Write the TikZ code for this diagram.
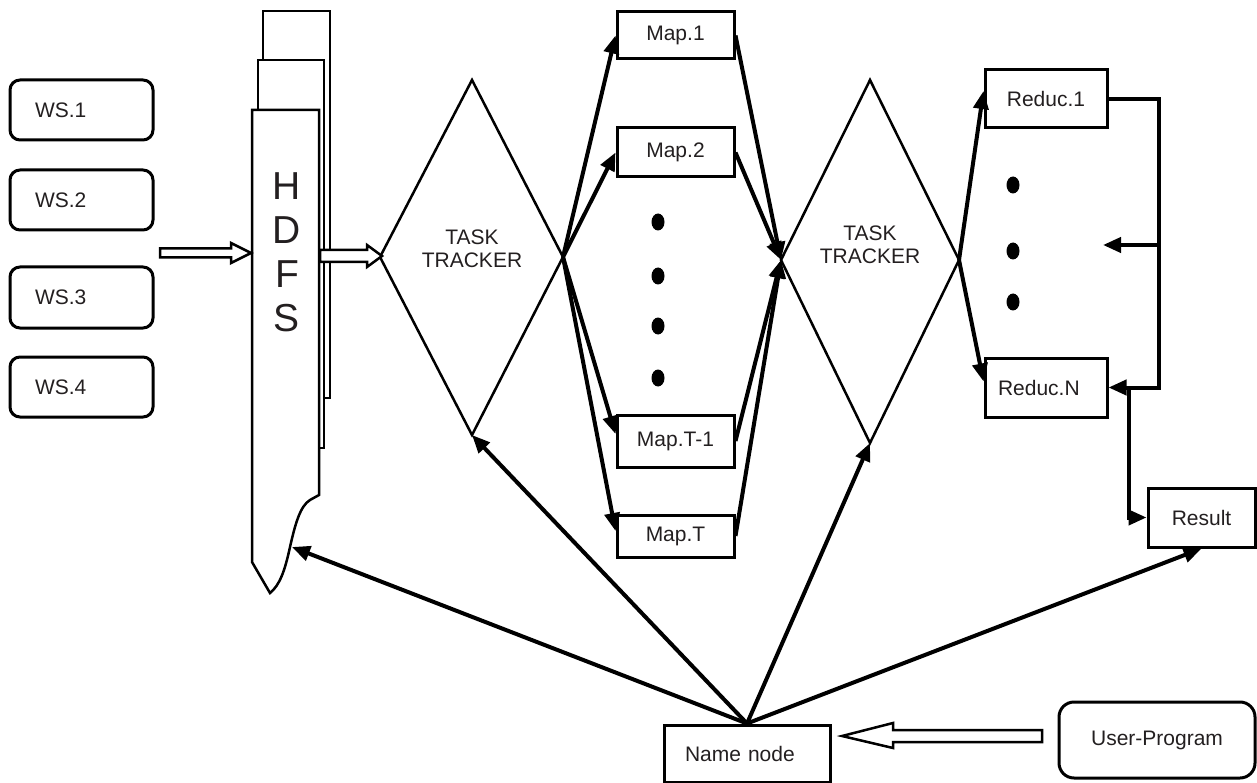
\documentclass[tikz,border=0pt]{standalone}
\usepackage{fontspec}
\setmainfont{Liberation Sans}
\usetikzlibrary{arrows.meta,calc}
\definecolor{txt}{HTML}{231F20}
\begin{document}
\begin{tikzpicture}[x=1pt,y=-1pt,
  lbl/.style={font=\fontsize{21}{24}\selectfont, text=txt},
  box/.style={draw, line width=3pt, inner sep=0pt, lbl},
  rbox/.style={box, rounded corners=10pt},
  arr/.style={line width=4pt, line join=miter, -{Triangle[length=18pt,width=15pt]}},
  dia/.style={draw, line width=2.5pt, line join=miter},
  sheet/.style={draw, line width=2.5pt, fill=white, line join=miter},
  fat/.style={draw, line width=2.5pt, fill=white, line join=miter},
  blob/.style={fill=black}]
\useasboundingbox (0,0) rectangle (1257,783);

% worker boxes
\node[rbox, minimum width=143pt, minimum height=60pt, inner xsep=25pt, text width=93pt, align=left] (ws1) at (81.5,110) {WS.1};
\node[rbox, minimum width=143pt, minimum height=60pt, inner xsep=25pt, text width=93pt, align=left] (ws2) at (81.5,200) {WS.2};
\node[rbox, minimum width=143pt, minimum height=61pt, inner xsep=25pt, text width=93pt, align=left] (ws3) at (81.5,297.5) {WS.3};
\node[rbox, minimum width=143pt, minimum height=60pt, inner xsep=25pt, text width=93pt, align=left] (ws4) at (81.5,387) {WS.4};

% HDFS stack
\draw[sheet] (263,11) rectangle (330,398);
\draw[sheet] (258,60) rectangle (324,448);
\draw[sheet] (252,110) -- (319,110) -- (319,495) -- (310,500)
  .. controls (300,506) and (295,525) .. (290,547)
  .. controls (285,570) and (280,585) .. (270,593)
  -- (252,562) -- cycle;
\node[font=\fontsize{39}{44}\selectfont, text=txt, align=center, inner sep=0pt] (hdfs) at (287,252) {H\\D\\F\\S};
\coordinate (hc) at (292,547);

% fat arrow WS -> HDFS
\coordinate (wa) at (160,253);
\coordinate (wb) at (251,253);
\draw[fat] (wb) -- ($(wb)+(-20,-10)$) -- ($(wb)+(-20,-4.5)$) -- ($(wa)+(0,-4.5)$)
  -- ($(wa)+(0,4.5)$) -- ($(wb)+(-20,4.5)$) -- ($(wb)+(-20,10)$) -- cycle;

% task tracker 1
\coordinate (t1l) at (380,257);
\coordinate (t1t) at (472,80);
\coordinate (t1r) at (563,257);
\coordinate (t1b) at (472,435);
\draw[dia] (t1l) -- (t1t) -- (t1r) -- (t1b) -- cycle;
\node[lbl, align=center, font=\fontsize{21}{23}\selectfont] (tt1) at (472,249) {TASK\\TRACKER};

% fat arrow HDFS -> TT1
\coordinate (ha) at (320,256);
\coordinate (hb) at (382,256);
\draw[fat] (hb) -- ($(hb)+(-15,-11)$) -- ($(hb)+(-15,-6)$) -- ($(ha)+(0,-6)$)
  -- ($(ha)+(0,6)$) -- ($(hb)+(-15,6)$) -- ($(hb)+(-15,11)$) -- cycle;

% map boxes
\node[box, minimum width=117pt, minimum height=47pt] (m1) at (675.5,35.5) {Map.1};
\node[box, minimum width=117pt, minimum height=49pt] (m2) at (675.5,152.5) {Map.2};
\node[box, minimum width=117pt, minimum height=52pt] (m3) at (675.5,441) {Map.T-1};
\node[box, minimum width=117pt, minimum height=42pt] (m4) at (675.5,536) {Map.T};

\foreach \yy in {222,276,326,378} \fill[blob] (658,\yy) ellipse [x radius=6.5pt, y radius=8.5pt];

% task tracker 2
\coordinate (t2l) at (781,260);
\coordinate (t2t) at (870,80);
\coordinate (t2r) at (959,260);
\coordinate (t2b) at (870,443);
\draw[dia] (t2l) -- (t2t) -- (t2r) -- (t2b) -- cycle;
\node[lbl, align=center, font=\fontsize{21}{23}\selectfont] (tt2) at (870,245) {TASK\\TRACKER};

% TT1 -> maps
\draw[arr] (t1r) -- (m1.west);
\draw[arr] (t1r) -- (m2.west);
\draw[arr] (t1r) -- ($(m3.west)+(0,-7)$);
\draw[arr] (t1r) -- ($(m4.west)+(0,-5)$);

% maps -> TT2
\draw[arr] (m1.east) -- (t2l);
\draw[arr] (m2.east) -- (t2l);
\draw[arr] (m3.east) -- (t2l);
\draw[arr] (m4.east) -- (t2l);

% reduce boxes
\node[box, minimum width=122pt, minimum height=58pt] (r1) at (1046,99) {Reduc.1};
\node[box, minimum width=122pt, minimum height=59pt, inner xsep=13pt, text width=96pt, align=left] (rN) at (1046,387.5) {Reduc.N};
\foreach \yy in {185,251,302} \fill[blob] (1013,\yy) ellipse [x radius=6.5pt, y radius=8.5pt];

\draw[arr] (t2r) -- ($(r1.west)+(0,-8)$);
\draw[arr] (t2r) -- ($(rN.west)+(0,-6)$);

% feedback bracket
\coordinate (br) at (1159,245);
\coordinate (brt) at (1103,245);
\draw[arr] (r1.east) -| (br) |- (rN.east);
\draw[arr] (br) -- (brt);

% result
\node[box, minimum width=107pt, minimum height=59pt] (res) at (1201.5,517.5) {Result};
\coordinate (j) at ($(rN.east)+(20,0)$);
\draw[arr] (j) |- (res.west);

% name node and user program
\node[box, minimum width=166pt, minimum height=57pt, inner xsep=21pt, text width=124pt, align=left] (nn) at (747,753.5) {Name node};
\node[box, rounded corners=15pt, minimum width=196pt, minimum height=76pt] (up) at (1157,740) {User-Program};

\draw[arr] (nn.north) -- (hc);
\draw[arr] (nn.north) -- (t1b);
\draw[arr] (nn.north) -- (t2b);
\draw[arr] (nn.north) -- (res.south);

% fat arrow User-Program -> Name node
\coordinate (ub) at (842,736);
\coordinate (ua) at (1042,736);
\draw[fat] (ub) -- ($(ub)+(51,-13)$) -- ($(ub)+(51,-6)$) -- ($(ua)+(0,-6)$)
  -- ($(ua)+(0,6)$) -- ($(ub)+(51,6)$) -- ($(ub)+(51,12)$) -- cycle;
\end{tikzpicture}
\end{document}
